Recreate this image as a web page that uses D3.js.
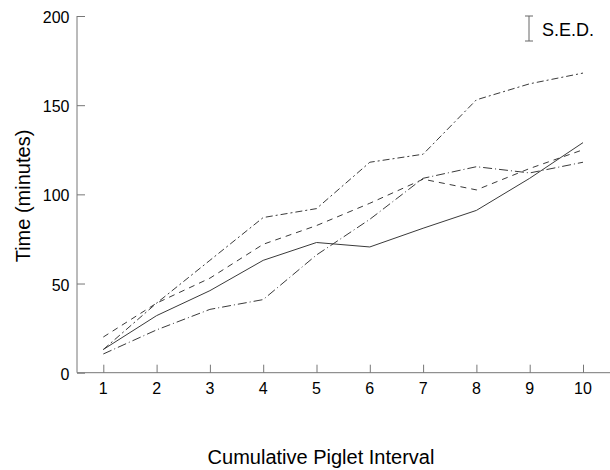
<!DOCTYPE html>
<html><head><meta charset="utf-8">
<script src="https://cdn.jsdelivr.net/npm/d3@7"></script>
<style>body{margin:0;background:#fff}svg{display:block}</style>
</head><body>
<svg id="c" width="610" height="470"></svg>
<script>
const intervals = [1,2,3,4,5,6,7,8,9,10];
const solid   = [13,32,46,63,73,70.5,81,91,109,129];
const dashDot = [13,39,63,87,92,118,122.5,153,162,168];
const dashed  = [20,39,53,72,82.5,95,108.5,102.5,114.5,125];
const dotDash = [10.5,24,35.5,41,66,86,109,115.5,112,118];
const yTicks = [0,50,100,150,200];

const svg = d3.select("#c");
const x = d3.scaleLinear().domain([1,10]).range([103.3,583]);
const y = d3.scaleLinear().domain([0,200]).range([372.7,16]);
const font = "Liberation Sans, Arial, Helvetica, sans-serif";

// axes
const ax = 77;
const yAxis = d3.axisRight(y).tickValues(yTicks).tickSize(8).tickFormat("");
const yg = svg.append("g").attr("transform",`translate(${ax},0)`).call(yAxis);
yg.select(".domain").attr("d",`M0,${y(200)}V${y(0)}`);
const xAxis = d3.axisTop(x).tickValues(intervals).tickSize(8).tickFormat("");
const xg = svg.append("g").attr("transform",`translate(0,${y(0)})`).call(xAxis);
xg.select(".domain").attr("d",`M${ax},0H610`);
svg.selectAll(".domain, .tick line").attr("stroke","#777").attr("stroke-width",1);

svg.append("g").selectAll("text").data(yTicks).join("text")
  .attr("x",69.5).attr("y",d=>y(d)+7).attr("text-anchor","end")
  .attr("font-family",font).attr("font-size",16).text(d=>d);
svg.append("g").selectAll("text").data(intervals).join("text")
  .attr("x",d=>x(d)).attr("y",393.5).attr("text-anchor","middle")
  .attr("font-family",font).attr("font-size",16).text(d=>d);

svg.append("text").attr("transform","translate(30,196) rotate(-90)")
  .attr("text-anchor","middle").attr("font-family",font).attr("font-size",20)
  .text("Time (minutes)");
svg.append("text").attr("x",321).attr("y",464).attr("text-anchor","middle")
  .attr("font-family",font).attr("font-size",20).text("Cumulative Piglet Interval");

// lines
const line = d3.line().x((d,i)=>x(intervals[i])).y(d=>y(d));
const series = [
  {v:solid, dash:null},
  {v:dashDot, dash:"7,3,2,3"},
  {v:dashed, dash:"6,5"},
  {v:dotDash, dash:"9,3,1,3"}
];
svg.append("g").selectAll("path").data(series).join("path")
  .attr("d",d=>line(d.v)).attr("fill","none").attr("stroke","#3a3a3a")
  .attr("stroke-width",1).attr("stroke-dasharray",d=>d.dash);

// S.E.D. bar
const sx = 529;
svg.append("path").attr("d",`M${sx},16V41M${sx-4},16H${sx+4}M${sx-4},41H${sx+4}`)
  .attr("stroke","#666").attr("fill","none");
svg.append("text").attr("x",542).attr("y",36).attr("font-family",font)
  .attr("font-size",18).text("S.E.D.");
</script>
</body></html>
